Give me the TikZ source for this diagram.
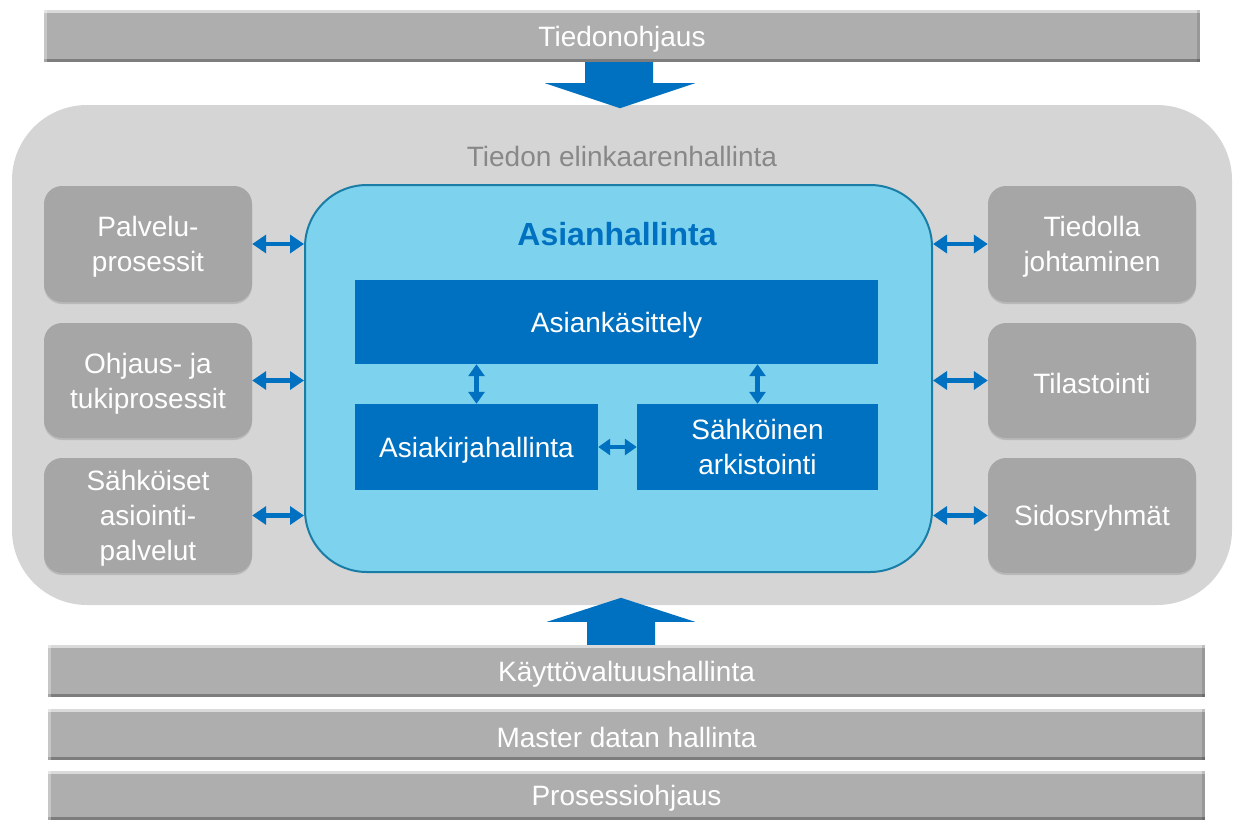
\documentclass[tikz,border=0pt]{standalone}
\usepackage{fontspec}
\setmainfont{Liberation Sans}
\usetikzlibrary{arrows.meta,calc,shadows}
\definecolor{bargray}{HTML}{AEAEAE}
\definecolor{bgray}{HTML}{D5D5D5}
\definecolor{boxgray}{HTML}{A6A6A6}
\definecolor{lblue}{HTML}{7DD3EE}
\definecolor{lborder}{HTML}{1A7DA6}
\definecolor{dblue}{HTML}{0070C0}
\definecolor{titlegray}{HTML}{888888}
\newcommand{\lowertxt}[1]{\raisebox{-3pt}[\height][\depth]{#1}}
\newcommand{\mlines}[1]{\raisebox{-3pt}[\height][\depth]{\begin{tabular}{@{}c@{}}#1\end{tabular}}}
\tikzset{
  txt/.style={font=\fontsize{28}{35}\selectfont},
  bar/.style={txt, fill=bargray, text=white, minimum width=1156pt, minimum height=52pt, inner sep=0pt,
    path picture={
      \fill[white,opacity=.55] (path picture bounding box.north west) rectangle ([yshift=-3pt]path picture bounding box.north east);
      \fill[black,opacity=.28] ([yshift=3pt]path picture bounding box.south west) rectangle (path picture bounding box.south east);
      \fill[white,opacity=.3] (path picture bounding box.north west) rectangle ([xshift=3pt]path picture bounding box.south west);
      \fill[black,opacity=.12] ([xshift=-3pt]path picture bounding box.north east) rectangle (path picture bounding box.south east);
    }},
  sidebox/.style={txt, fill=boxgray, text=white, align=center, rounded corners=18pt, minimum width=208pt, minimum height=115pt, inner sep=0pt,
    drop shadow={shadow xshift=0pt, shadow yshift=-2pt, fill=black!40, opacity=.45}},
  innerbox/.style={txt, fill=dblue, text=white, align=center, inner sep=0pt},
  biarrow/.style={draw=dblue, line width=4.6pt, {Triangle[length=14pt,width=18pt]}-{Triangle[length=14pt,width=18pt]}},
  biarrowin/.style={draw=dblue, line width=4.2pt, {Triangle[length=12pt,width=16pt]}-{Triangle[length=12pt,width=16pt]}},
  blockarrow/.style={fill=dblue}
}
\begin{document}
\begin{tikzpicture}[x=1pt,y=-1pt]
\useasboundingbox (0,0) rectangle (1235,820);
% top bar
\node[bar] (top) at (622,36) {\lowertxt{Tiedonohjaus}};
% background
\node[fill=bgray, rounded corners=75pt, minimum width=1220pt, minimum height=500pt, inner sep=0pt] (bg) at (622,355) {};
\node[txt, text=titlegray] (bgt) at (622,156) {Tiedon elinkaarenhallinta};
% down block arrow
\fill[blockarrow] ($(top.south)+(-37,0)$) -- ($(top.south)+(-37,21)$) -- ($(top.south)+(-77,21)$)
  -- ($(top.south)+(-2,46)$) -- ($(top.south)+(73,21)$) -- ($(top.south)+(31,21)$) -- ($(top.south)+(31,0)$) -- cycle;
% center
\node[fill=lblue, draw=lborder, line width=2pt, rounded corners=62pt, minimum width=627pt, minimum height=387pt, inner sep=0pt] (c) at (618.5,378.5) {};
\node[font=\fontsize{32}{38}\selectfont\bfseries, text=dblue] (ah) at (617,234) {Asianhallinta};
\node[innerbox, minimum width=523pt, minimum height=84pt] (ask) at (616.5,322) {\lowertxt{Asiankäsittely}};
\node[innerbox, minimum width=243pt, minimum height=86pt] (ak) at (476.5,447) {\lowertxt{Asiakirjahallinta}};
\node[innerbox, minimum width=241pt, minimum height=86pt] (sa) at (757.5,447) {\mlines{Sähköinen\\arkistointi}};
\draw[biarrowin] (ak.north) -- (ak.north |- ask.south);
\draw[biarrowin] (sa.north) -- (sa.north |- ask.south);
\draw[biarrowin] (ak.east) -- (sa.west);
% side boxes
\node[sidebox, minimum height=116pt] (l1) at (148,244) {\mlines{Palvelu-\\prosessit}};
\node[sidebox] (l2) at (148,380.5) {\mlines{Ohjaus- ja\\tukiprosessit}};
\node[sidebox] (l3) at (148,515.5) {\mlines{Sähköiset\\asiointi-\\palvelut}};
\node[sidebox, minimum height=116pt] (r1) at (1092,244) {\mlines{Tiedolla\\johtaminen}};
\node[sidebox] (r2) at (1092,380.5) {\lowertxt{Tilastointi}};
\node[sidebox] (r3) at (1092,515.5) {\lowertxt{Sidosryhmät}};
\foreach \b in {l1,l2,l3} \draw[biarrow] (\b.east) -- (\b.east -| c.west);
\foreach \b in {r1,r2,r3} \draw[biarrow] (\b.west -| c.east) -- (\b.west);
% bottom bars
\node[bar, minimum width=1157pt] (b1) at (626.5,671) {\lowertxt{Käyttövaltuushallinta}};
\node[bar, minimum width=1157pt, minimum height=51pt] (b2) at (626.5,734.5) {\lowertxt{Master datan hallinta}};
\node[bar, minimum width=1157pt, minimum height=49pt] (b3) at (626.5,795.5) {\lowertxt{Prosessiohjaus}};
% up block arrow
\fill[blockarrow] ($(b1.north)+(-39.5,0)$) -- ($(b1.north)+(-39.5,-23)$) -- ($(b1.north)+(-79.5,-23)$)
  -- ($(b1.north)+(-5.5,-47)$) -- ($(b1.north)+(68.5,-23)$) -- ($(b1.north)+(28.5,-23)$) -- ($(b1.north)+(28.5,0)$) -- cycle;
\end{tikzpicture}
\end{document}
